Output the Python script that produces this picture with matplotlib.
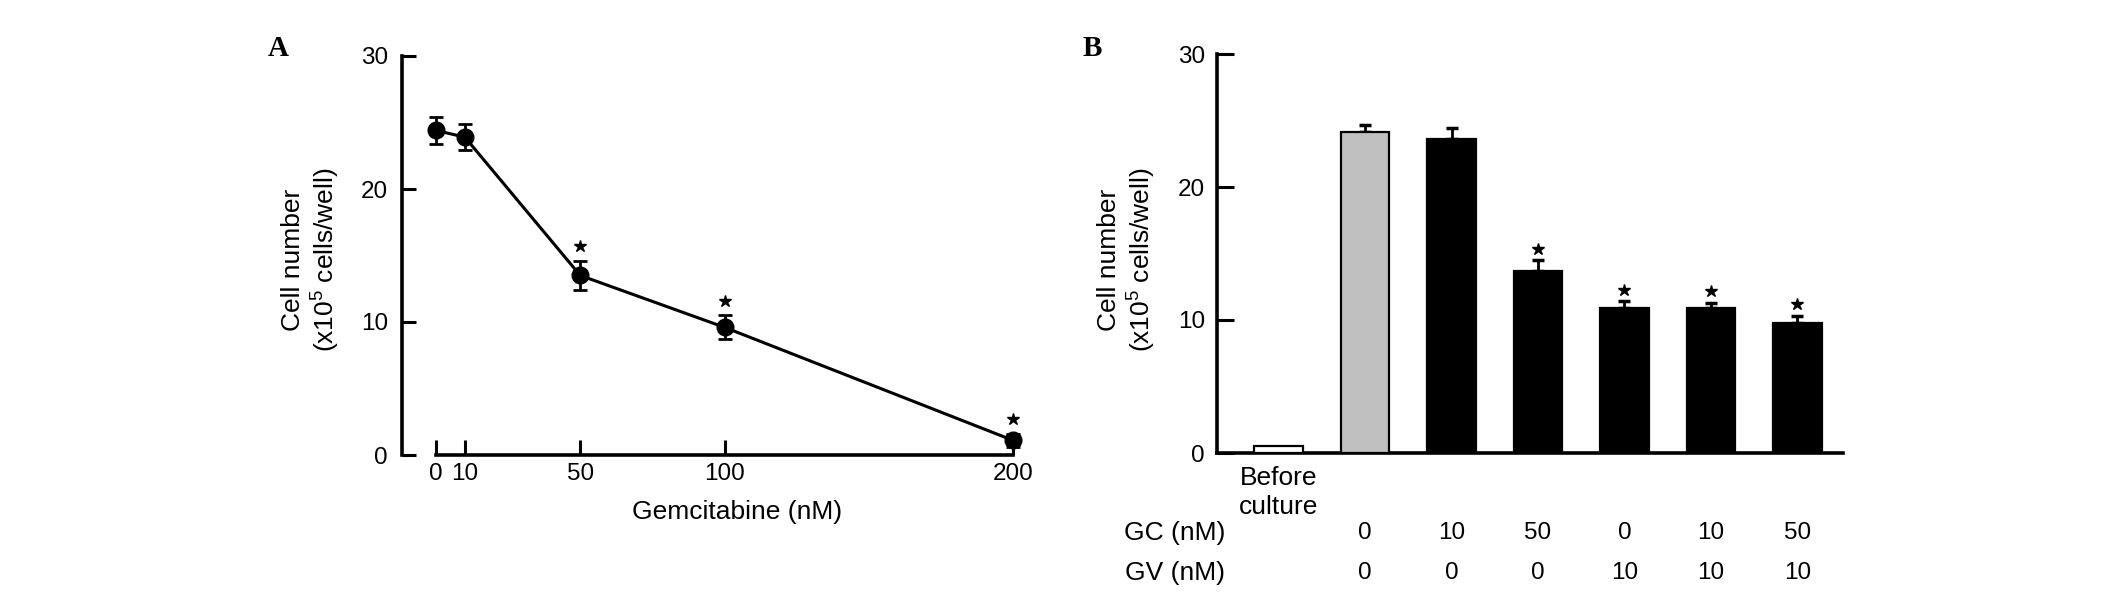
import matplotlib

matplotlib.use("Agg")
import matplotlib.pyplot as plt
import matplotlib.transforms as mtransforms
import numpy as np

plt.rcParams["font.family"] = ["Liberation Sans", "DejaVu Sans"]
plt.rcParams["mathtext.fontset"] = "custom"
plt.rcParams["mathtext.rm"] = "Liberation Sans"
plt.rcParams["mathtext.it"] = "Liberation Sans:italic"
plt.rcParams["mathtext.bf"] = "Liberation Sans:bold"

# panel A: dose response
DOSE_NM = [0, 10, 50, 100, 200]
CELLS_A = [24.4, 23.9, 13.5, 9.6, 1.1]
SEM_A = [1.05, 1.0, 1.1, 0.9, 0.5]
SIG_A = [False, False, True, True, True]

# panel B: combinations
GROUP_LABELS = ["Before\nculture", "", "", "", "", "", ""]
GC_NM = ["", "0", "10", "50", "0", "10", "50"]
GV_NM = ["", "0", "0", "0", "10", "10", "10"]
CELLS_B = [0.53, 24.1, 23.6, 13.65, 10.9, 10.9, 9.8]
SEM_B = [0.0, 0.58, 0.82, 0.87, 0.5, 0.4, 0.52]
SIG_B = [False, False, False, True, True, True, True]
BAR_FILLS = ["white", "#c0c0c0", "black", "black", "black", "black", "black"]

YLABEL = "Cell number\n(x10$^{5}$ cells/well)"
W, H = 2126, 611
FS = 17.5      # tick numbers
FS_LAB = 19    # word labels
SPINE_W = 2.6


def style_axes(ax):
    for side in ("top", "right"):
        ax.spines[side].set_visible(False)
    for side in ("left", "bottom"):
        ax.spines[side].set_linewidth(SPINE_W)
    ax.spines["left"].set_bounds(0, 30)
    ax.set_ylim(0, 30)
    ax.set_yticks([0, 10, 20, 30])


fig = plt.figure(figsize=(W / 100, H / 100), dpi=100)

# ---- A
ax_a = fig.add_axes([436 / W, 1 - 455 / H, 577 / W, 399 / H])
style_axes(ax_a)
ax_a.spines["left"].set_position(("outward", 24.5))
ax_a.spines["bottom"].set_bounds(0, 200)
ax_a.set_xlim(0, 200)
ax_a.set_xticks(DOSE_NM)
ax_a.tick_params(axis="y", direction="in", length=10, width=2.2, pad=10, labelsize=FS)
ax_a.tick_params(axis="x", direction="in", length=11, width=2.2, pad=6, labelsize=FS)

cont = ax_a.errorbar(DOSE_NM, CELLS_A, yerr=SEM_A, fmt="o-", color="black", ms=12,
                     lw=2.2, elinewidth=2, capsize=5, capthick=2)
for art in cont.get_children():
    art.set_clip_on(False)

dose = np.array(DOSE_NM)
sig_a = np.array(SIG_A)
star_a = np.array(CELLS_A) + np.array(SEM_A) + 1.1
ax_a.plot(dose[sig_a], star_a[sig_a], ls="none", marker="*", color="black", ms=9, clip_on=False)

ax_a.text(-0.216, 0.49, YLABEL, transform=ax_a.transAxes, rotation=90,
          ha="center", va="center", fontsize=FS_LAB, linespacing=1.2)
ax_a.text(0.522, -0.142, "Gemcitabine (nM)", transform=ax_a.transAxes,
          ha="center", va="center", fontsize=FS_LAB)

# ---- B
ax_b = fig.add_axes([1217 / W, 1 - 453 / H, 625.7 / W, 399 / H])
style_axes(ax_b)
x = np.arange(len(CELLS_B))
ax_b.set_xlim(-0.713, 6.525)
ax_b.set_xticks([])
ax_b.tick_params(axis="y", direction="in", length=12, width=2.2, pad=8.6, labelsize=FS)

ax_b.bar(x, CELLS_B, width=0.561, color=BAR_FILLS, edgecolor="black", linewidth=1.6, zorder=3)
sem_b = np.array(SEM_B)
has_err = sem_b > 0
cells_b = np.array(CELLS_B)
ax_b.errorbar(x[has_err], cells_b[has_err], yerr=[np.zeros(has_err.sum()), sem_b[has_err]],
              fmt="none", ecolor="black", elinewidth=2, capsize=4.5, capthick=2.5, zorder=2)
sig_b = np.array(SIG_B)
star_b = cells_b + sem_b + 0.85
ax_b.plot(x[sig_b], star_b[sig_b], ls="none", marker="*", color="black", ms=9, clip_on=False)

trans_b = mtransforms.blended_transform_factory(ax_b.transData, ax_b.transAxes)
for xi, name, gc, gv in zip(x, GROUP_LABELS, GC_NM, GV_NM):
    if name:
        ax_b.text(xi, -0.099, name, transform=trans_b, ha="center", va="center",
                  fontsize=FS_LAB, linespacing=1.25)
    ax_b.text(xi, -0.201, gc, transform=trans_b, ha="center", va="center", fontsize=FS)
    ax_b.text(xi, -0.3015, gv, transform=trans_b, ha="center", va="center", fontsize=FS)
ax_b.text(0.013, -0.201, "GC (nM)", transform=ax_b.transAxes, ha="right", va="center", fontsize=FS_LAB)
ax_b.text(0.013, -0.3015, "GV (nM)", transform=ax_b.transAxes, ha="right", va="center", fontsize=FS_LAB)

ax_b.text(-0.1425, 0.485, YLABEL, transform=ax_b.transAxes, rotation=90,
          ha="center", va="center", fontsize=FS_LAB, linespacing=1.2)

# panel letters
for px, letter in ((278, "A"), (1092, "B")):
    fig.text(px / W, 1 - 48 / H, letter, family=["Liberation Serif"], weight="bold",
             fontsize=21, ha="center", va="center")

fig.savefig("out.png", dpi=100)
